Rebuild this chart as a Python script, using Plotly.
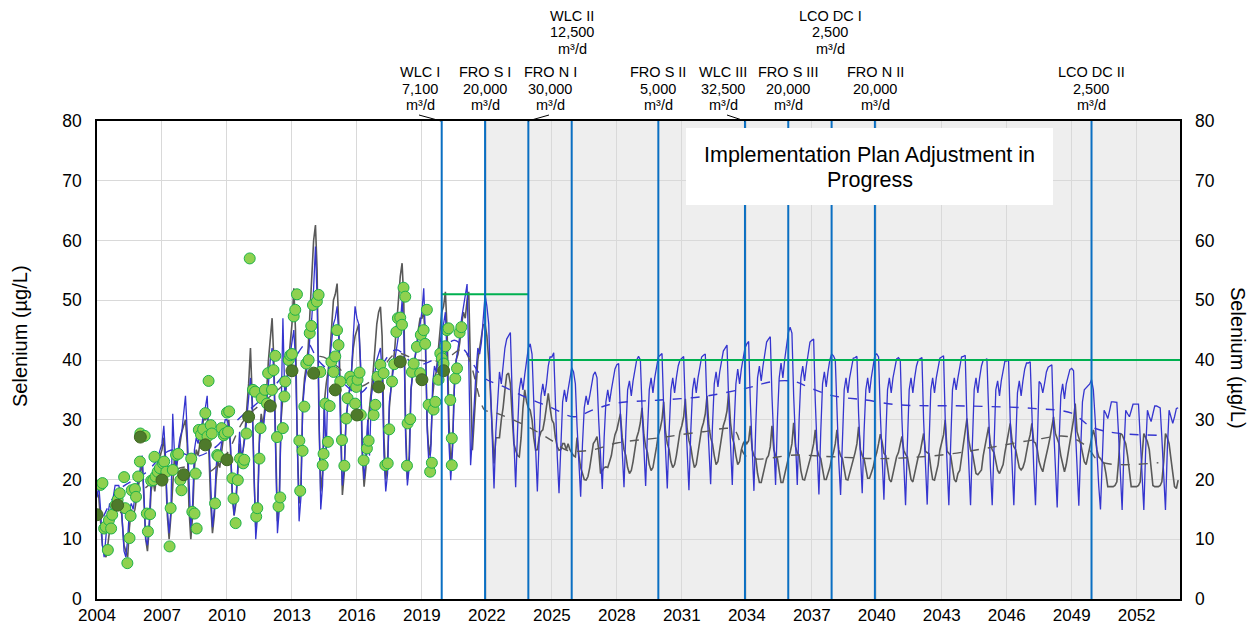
import numpy as np
import pandas as pd
import plotly.graph_objects as go

# ---------------- DATA ----------------
start_month = "2004-01-01"

# Modelled monthly selenium, blue series (Jan..Dec per row), 2004-2053
blue_monthly = [
    17, 19, 15, 9, 7, 11, 14, 16, 15, 17, 19, 19,            # 2004
    19, 18, 14, 8, 7, 10, 15, 16, 15, 17, 19, 20,            # 2005
    22, 24, 18, 10, 9, 13, 20, 21, 19, 22, 24, 25,           # 2006
    26, 29, 24, 15, 11, 15, 31, 24, 22, 25, 27, 28,          # 2007
    31, 34, 28, 19, 12, 16, 25, 27, 26, 28, 29, 31,          # 2008
    32, 34, 27, 17, 12, 15, 22, 25, 24, 26, 28, 30,          # 2009
    30, 29, 26, 18, 14, 17, 22, 28, 24, 25, 27, 30,          # 2010
    34, 37, 33, 20, 10, 14, 26, 30, 28, 31, 33, 36,          # 2011
    40, 42, 38, 24, 11, 15, 30, 47, 34, 36, 38, 41,          # 2012
    43, 45, 40, 24, 13, 17, 32, 36, 38, 40, 44, 47,          # 2013
    52, 59, 50, 28, 15, 19, 33, 24, 37, 40, 43, 46,          # 2014
    47, 49, 44, 27, 19, 22, 30, 33, 35, 38, 44, 49,          # 2015
    47, 46, 40, 25, 20, 24, 30, 24, 34, 36, 38, 40,          # 2016
    41, 42, 38, 24, 18, 21, 33, 36, 38, 40, 42, 44,          # 2017
    46, 50, 45, 27, 19, 22, 35, 38, 40, 42, 44, 46,          # 2018
    48, 52, 44, 28, 22, 25, 36, 39, 38, 40, 43, 45,          # 2019
    46, 48, 40, 26, 19.9, 25, 35, 40, 42, 44, 47, 49,        # 2020
    51, 52.7, 40, 22.4, 27, 33, 38, 42, 41, 43, 47, 50.9,    # 2021
    49, 46, 36, 26, 18.5, 28, 34, 38, 36, 39, 42, 43.5,      # 2022
    44, 44.6, 35, 26, 18.7, 28, 35, 37, 35, 37.5, 40, 42,    # 2023
    42.7, 41, 33, 25, 18, 27, 34, 36, 34, 36, 39, 40.5,      # 2024
    40.5, 41.2, 32, 24, 17.7, 27, 33, 35, 33, 35, 37, 38.7,  # 2025
    38, 36, 29, 23, 17.1, 26, 32, 34, 32.5, 34, 36, 37.5,    # 2026
    38, 37, 30, 24, 18.4, 27, 33, 35, 33, 35, 37, 38.5,      # 2027
    39.2, 39.4, 31, 25, 18.7, 28, 35, 36.5, 34, 36.5, 38.5, 40,  # 2028
    40.6, 40, 32, 25, 18.9, 28, 35, 37, 34.5, 37, 39, 40.5,  # 2029
    40.8, 41.1, 32, 25, 18.5, 28, 35, 37, 34.5, 37, 39, 40,  # 2030
    40.3, 40.6, 32, 25, 18.2, 28, 35, 37, 34.5, 37, 39, 40.5,  # 2031
    40.8, 41, 32, 25, 19.2, 29, 36, 38, 35.5, 38, 40, 41.5,  # 2032
    42, 42.5, 33, 26, 19.1, 29, 36, 38.5, 36, 38.5, 40.5, 42,  # 2033
    42.7, 43.1, 33, 25, 18.1, 29, 37, 39, 36.5, 39, 41, 43,  # 2034
    43.5, 43.9, 34, 26, 19.1, 30, 37, 39.5, 37, 40, 42.5, 44.5,  # 2035
    45.5, 44.5, 34, 26, 19.1, 30, 37, 39, 36.5, 39, 41.5, 43,  # 2036
    43.3, 43.5, 33, 24, 17.5, 28, 36, 38, 35.5, 38, 40, 41,  # 2037
    40.7, 40, 31, 23, 17.4, 28, 35, 37, 34.5, 37, 39, 40.3,  # 2038
    40.4, 40.6, 31, 23, 17.7, 28, 35, 37, 34.5, 37, 39, 40.8,  # 2039
    41, 40.5, 31, 23, 16.6, 27, 35, 37, 34.5, 37, 39, 40.2,  # 2040
    40.4, 40, 30, 22, 15.7, 26, 35, 37, 34.5, 37, 39, 40,    # 2041
    40.2, 40.4, 30, 22, 15.8, 26, 35, 37, 34.5, 37, 39, 40.3,  # 2042
    40.5, 40.7, 30, 22, 15.7, 26, 35, 37, 35, 37, 39, 40.5,  # 2043
    40.6, 40.8, 30, 22, 15.7, 26, 35, 37, 34.5, 37, 39, 40,  # 2044
    40, 40.2, 30, 22, 15.7, 26, 35, 36.5, 34, 36.5, 38.5, 39.8,  # 2045
    39.8, 40, 30, 22, 15.7, 26, 34.5, 36.5, 34, 36.5, 38.5, 39.5,  # 2046
    39.5, 39.7, 30, 22, 15.7, 26, 36.4, 36, 34.5, 36.1, 38, 38.8,  # 2047
    39, 39.2, 29, 21, 15.3, 26, 34, 36, 33.5, 36, 37.5, 38.4,  # 2048
    38.6, 38.2, 29, 21, 15.6, 25, 33, 35, 35.3, 35.6, 36, 36.7,  # 2049
    35, 30, 24, 19, 15, 25, 31.6, 31, 30.2, 31.5, 33, 33,    # 2050
    32.9, 32.9, 27.7, 21, 14.9, 25, 31.6, 31, 30.5, 31.5, 32.6, 32.6,  # 2051
    32.6, 32.6, 27, 21, 14.9, 25, 31.6, 30.5, 29.7, 31, 32.3, 32.3,  # 2052
    32.2, 32, 27, 21, 14.9, 25, 31.6, 30.5, 29.4, 30.5, 31.9, 32,  # 2053
]

# Modelled monthly selenium, grey series (Jan..Dec per row), 2004-2053
grey_monthly = [
    18, 17, 13, 9, 8, 7, 9, 12, 14, 13, 15, 17,              # 2004
    16, 17, 13, 9, 8, 7, 12, 15, 14, 15, 17, 19,             # 2005
    21, 23, 17, 10, 8, 12, 18, 20, 18, 21, 23, 24,           # 2006
    25, 27, 22, 14, 10, 14, 20, 24, 22, 24, 26, 28,          # 2007
    29, 30, 26, 15, 10, 14, 22, 25, 24, 26, 28, 30,          # 2008
    30, 31, 25, 16, 11, 14, 20, 23, 22, 25, 27, 28,          # 2009
    28, 30, 25, 17, 14, 16, 22, 26, 23, 25, 28, 32,          # 2010
    36, 42, 34, 21, 12, 15, 27, 31, 29, 32, 35, 40,          # 2011
    44, 47, 40, 23, 13, 17, 30, 34, 33, 36, 39, 42,          # 2012
    46, 52, 45, 26, 16, 19, 33, 37, 39, 42, 48, 56,          # 2013
    60, 62.6, 55, 30, 18, 21, 33, 36, 38, 41, 45, 50,        # 2014
    51, 52.8, 46, 28, 17.4, 21, 30, 33, 35, 38, 42, 44,      # 2015
    45, 46, 39, 24, 18.8, 22, 29, 32, 34, 38, 42, 46,        # 2016
    48, 48.9, 44, 27, 20, 23, 32, 36, 39, 42, 46, 50,        # 2017
    54, 56.2, 50, 29, 20, 24, 35, 38, 40, 42, 45, 47,        # 2018
    47, 48, 43, 29, 24, 26, 34, 37, 38, 41, 45, 48,          # 2019
    49, 51.4, 45, 30, 22, 26, 36, 40, 41, 43, 46, 48,        # 2020
    47, 50, 51.4, 35, 24.9, 30, 36, 40, 42, 44, 45.9, 46,    # 2021
    44, 40, 34, 28, 22.7, 27, 27, 27, 30, 32, 35, 37.5,      # 2022
    37.8, 36, 31, 26, 24.9, 24, 23.8, 27, 32, 35, 33, 32,    # 2023
    31.6, 30, 27, 24.9, 25, 27, 28, 28.3, 30, 32, 34.4, 32,  # 2024
    30, 29.4, 27, 25.5, 24.9, 25, 26, 26, 25, 26, 25, 24.5,  # 2025
    24, 23.8, 27, 24, 22, 21, 20, 19.9, 20.5, 22, 24, 26,    # 2026
    26.5, 27.2, 25, 21, 21.5, 22, 22.1, 22, 23, 24, 26, 27.5,  # 2027
    28.3, 29.5, 31, 27, 25, 24, 22, 21, 21.5, 23, 25, 27,    # 2028
    28, 29.5, 32, 27.5, 25.5, 24.5, 22.5, 21.5, 22, 23.5, 25.5, 27.5,  # 2029
    28.5, 30, 33, 28, 26, 25, 23, 22, 22.5, 24, 26, 28,      # 2030
    29, 30.5, 33.5, 28.5, 26.5, 25.5, 23.5, 22, 22.5, 24.5, 26.5, 28.5,  # 2031
    29.5, 31, 34, 29, 27, 26, 24, 22.5, 23, 25, 27, 29,      # 2032
    30, 31.5, 34.5, 29.5, 27, 26, 24, 22.5, 23, 25, 26, 26.5,  # 2033
    26, 26.5, 29, 25, 24, 23.5, 21, 19.5, 19.5, 21, 22, 23.5,  # 2034
    24, 25.5, 29, 25, 24, 23.5, 21.5, 19.5, 19.5, 21, 22, 23.5,  # 2035
    24.5, 26, 29.5, 25.5, 24.5, 24, 21.5, 20, 19.9, 21, 22, 23.5,  # 2036
    24.5, 26, 28.3, 25, 24, 23.5, 21.5, 20, 20, 21, 22, 23.5,  # 2037
    24.5, 26, 28.3, 25, 24, 23.5, 21.5, 20, 19.9, 21, 22, 23.5,  # 2038
    24.5, 26, 28.8, 25, 24, 23.5, 21.5, 20.2, 20.2, 21, 22, 23.5,  # 2039
    24.5, 26, 27.6, 26.3, 24.4, 24, 22, 20, 19.6, 21, 22, 23.8,  # 2040
    24.5, 26, 27.2, 24.9, 24.2, 23.8, 22, 20, 19.6, 21, 22, 23.8,  # 2041
    24.5, 26, 27.7, 24.7, 24.5, 24.3, 22, 20, 19.9, 21, 22.5, 24.9,  # 2042
    26, 27.5, 30, 24.7, 24.4, 24, 22, 20, 19.6, 21, 21.5, 23.5,  # 2043
    25.5, 27.5, 30.2, 26.6, 25, 24.5, 22.5, 21, 20.8, 21.2, 21.6, 24,  # 2044
    25.5, 27, 28.8, 26, 25, 24.5, 23, 21.5, 21, 21.6, 22.5, 24.5,  # 2045
    26, 27.5, 29.4, 26.5, 25.5, 25, 23.5, 22, 21.6, 22, 23, 25,  # 2046
    26.3, 27.5, 29.4, 26.3, 26.1, 25, 23, 22, 21.3, 22.8, 24, 25.5,  # 2047
    27, 28.5, 30.5, 27.7, 27, 26, 24, 22.5, 21.3, 22.5, 24.5, 26.6,  # 2048
    28, 30, 32.7, 28, 27, 26, 24.5, 23, 22.5, 24, 25.5, 27,  # 2049
    28.3, 27, 25, 23.8, 23.5, 23, 22.7, 21, 18.8, 18.8, 18.8, 18.8,  # 2050
    19, 19.6, 23, 27.7, 27.5, 26.6, 26, 24, 21, 18.8, 18.8, 18.8,  # 2051
    18.8, 19, 19.6, 24, 27.7, 27, 26.3, 25, 22, 19, 18.8, 18.8,  # 2052
    18.8, 19, 19.6, 23, 27.7, 27, 26, 23.5, 20.5, 18.8, 18.5, 19.9,  # 2053
]

# Running-average trend lines (decimal year, value)
blue_trend_year = [2004.3, 2005.0, 2006.2, 2007.4, 2008.5, 2009.5, 2010.5, 2011.4, 2012.3, 2012.9,
                   2013.7, 2014.2, 2015.2, 2016.1, 2016.9, 2017.8, 2018.7, 2019.5, 2020.5, 2021.0,
                   2021.8, 2022.8, 2023.9, 2025.0, 2026.0, 2027.0, 2028.0, 2030.0, 2032.0, 2034.0,
                   2035.2, 2036.2, 2037.0, 2038.0, 2039.5, 2041.0, 2044.2, 2047.2, 2049.0, 2049.9,
                   2051.0, 2053.0]
blue_trend_val = [13.8, 18.2, 21.0, 24.9, 23.8, 25.5, 30.0, 32.8, 36.1, 38.9,
                  42.8, 40.0, 36.7, 34.4, 37.8, 41.7, 39.2, 40.0, 43.3, 41.5,
                  37.2, 35.5, 33.6, 32.0, 30.5, 31.8, 32.8, 33.3, 33.9, 35.3,
                  36.4, 36.4, 35.2, 34.0, 33.3, 32.5, 32.3, 31.9, 31.1, 28.8,
                  27.8, 27.4]
grey_trend_year = [2004.5, 2005.2, 2006.1, 2007.0, 2008.1, 2009.0, 2009.9, 2010.8, 2011.8, 2012.5,
                   2013.4, 2014.3, 2015.1, 2016.0, 2016.9, 2017.8, 2018.8, 2020.0, 2020.9, 2021.9,
                   2022.2, 2023.8, 2025.0, 2025.7, 2026.8, 2028.0, 2030.0, 2032.0, 2033.4, 2034.0,
                   2036.3, 2038.0, 2040.3, 2043.0, 2045.0, 2047.2, 2048.8, 2049.7, 2050.3, 2053.0]
grey_trend_val = [12.1, 14.9, 18.2, 20.5, 22.1, 21.0, 23.8, 30.0, 33.3, 35.5,
                  38.9, 40.6, 38.9, 35.5, 37.2, 41.1, 40.0, 40.0, 41.7, 31.6,
                  31.4, 29.0, 26.5, 24.9, 24.9, 26.1, 27.0, 28.0, 28.3, 23.8,
                  24.1, 23.8, 23.5, 24.1, 25.2, 26.6, 27.2, 25.5, 23.0, 22.8]

# Observed samples (decimal year, value)
obs_year = [2004.17, 2004.25, 2004.33, 2004.40, 2004.50, 2004.55, 2004.65, 2004.70, 2004.85, 2004.95,
            2005.05, 2005.25, 2005.30, 2005.40, 2005.50, 2005.55, 2005.60, 2005.75, 2005.80, 2005.90,
            2005.98, 2006.00, 2006.20, 2006.30, 2006.35, 2006.45, 2006.50, 2006.60, 2006.65, 2006.70,
            2006.80, 2006.90, 2007.05, 2007.10, 2007.20, 2007.35, 2007.40, 2007.50, 2007.65, 2007.75,
            2007.85, 2007.90, 2008.35, 2008.40, 2008.50, 2008.55, 2008.60, 2008.70, 2008.80, 2008.90,
            2009.00, 2009.10, 2009.15, 2009.25, 2009.30, 2009.45, 2009.55, 2009.60, 2009.75, 2009.85,
            2009.90, 2010.00, 2010.05, 2010.10, 2010.25, 2010.30, 2010.40, 2010.50, 2010.60, 2010.75,
            2010.80, 2010.90, 2011.05, 2011.20, 2011.30, 2011.35, 2011.40, 2011.50, 2011.55, 2011.60,
            2011.75, 2011.85, 2011.90, 2012.08, 2012.15, 2012.23, 2012.31, 2012.38, 2012.46, 2012.58,
            2012.65, 2012.69, 2012.85, 2012.92, 2013.00, 2013.08, 2013.15, 2013.23, 2013.34, 2013.38,
            2013.49, 2013.57, 2013.66, 2013.77, 2013.82, 2013.89, 2013.97, 2014.15, 2014.23, 2014.31,
            2014.42, 2014.46, 2014.54, 2014.66, 2014.74, 2014.82, 2014.92, 2015.00, 2015.08, 2015.15,
            2015.23, 2015.31, 2015.42, 2015.51, 2015.57, 2015.69, 2015.77, 2015.92, 2015.97, 2016.03,
            2016.12, 2016.18, 2016.31, 2016.46, 2016.54, 2016.77, 2016.85, 2016.95, 2017.08, 2017.23,
            2017.31, 2017.42, 2017.49, 2017.62, 2017.72, 2017.82, 2017.89, 2018.00, 2018.08, 2018.15,
            2018.23, 2018.31, 2018.34, 2018.46, 2018.54, 2018.62, 2018.77, 2018.92, 2018.95, 2019.08,
            2019.15, 2019.23, 2019.31, 2019.38, 2019.46, 2019.54, 2019.62, 2019.77, 2019.85, 2019.92,
            2020.00, 2020.08, 2020.15, 2020.23, 2020.31, 2020.38, 2020.38, 2020.54, 2020.62, 2020.74,
            2020.82]
obs_val = [19.1, 19.4, 11.8, 12.1, 8.2, 13.2, 11.8, 14.1, 15.7, 16.6,
           17.7, 20.4, 15.2, 6.0, 10.2, 13.9, 18.2, 18.4, 17.1, 20.5,
           23.0, 27.7, 27.3, 14.3, 11.3, 14.2, 19.8, 19.9, 23.8, 20.5,
           21.3, 21.9, 22.7, 23.0, 21.3, 8.8, 15.2, 21.6, 24.1, 24.3,
           19.9, 18.2, 23.5, 14.6, 14.3, 21.0, 11.8, 28.3, 27.5, 28.4,
           31.1, 27.2, 36.5, 29.1, 27.7, 16.0, 24.1, 23.9, 28.6, 27.4,
           27.7, 31.2, 28.0, 31.4, 20.2, 16.8, 12.7, 19.9, 23.5, 22.7,
           23.3, 27.7, 57.0, 35.0, 34.7, 13.8, 15.2, 23.5, 28.6, 33.6,
           35.0, 32.7, 37.8, 35.0, 38.3, 40.7, 27.1, 15.5, 17.0, 28.6,
           33.9, 36.4, 40.0, 40.8, 41.0, 47.3, 48.4, 51.0, 26.5, 18.1,
           24.8, 32.2, 39.4, 40.0, 44.5, 45.7, 49.2, 49.8, 50.9, 38.0,
           22.4, 24.3, 32.7, 26.3, 32.3, 39.7, 38.0, 40.6, 45.0, 42.5,
           36.4, 26.6, 22.3, 30.2, 33.6, 37.2, 36.4, 32.7, 35.5, 36.7,
           37.9, 30.8, 23.2, 25.2, 26.5, 30.8, 32.5, 37.2, 39.2, 37.8,
           22.4, 22.7, 28.4, 36.4, 39.3, 44.7, 47.0, 47.1, 45.9, 52.1,
           50.6, 22.3, 29.4, 30.1, 38.0, 39.4, 42.2, 37.8, 44.2, 45.0,
           42.7, 48.4, 32.5, 21.3, 22.8, 31.7, 33.0, 36.7, 41.1, 40.3,
           39.4, 42.3, 45.0, 45.3, 33.3, 26.9, 22.4, 36.9, 38.6, 44.6,
           45.5]

# Annual averages of observations
annual_year = [2004.0, 2004.95, 2006.0, 2007.0, 2008.0, 2009.0, 2010.0, 2011.0, 2012.0,
               2013.0, 2014.0, 2015.0, 2016.0, 2017.0, 2018.0, 2019.0, 2020.0]
annual_val = [14.1, 15.7, 27.1, 19.9, 20.8, 25.8, 23.3, 30.5, 32.3,
              38.2, 37.8, 35.0, 30.8, 35.5, 39.7, 36.7, 38.2]

# Implementation steps
impl_dates = ["2019-12-01", "2021-12-01", "2023-12-01", "2025-12-01", "2029-12-01",
              "2033-12-01", "2035-12-01", "2037-12-01", "2039-12-01", "2049-12-01"]
impl_names = ["WLC I", "FRO S I", "FRO N I", "WLC II", "FRO S II",
              "WLC III", "FRO S III", "LCO DC I", "FRO N II", "LCO DC II"]
impl_caps = ["7,100", "20,000", "30,000", "12,500", "5,000",
             "32,500", "20,000", "2,500", "20,000", "2,500"]

# Compliance limits (value, start, end)
limit_vals = [51, 40]
limit_starts = ["2019-12-01", "2023-12-01"]
limit_ends = ["2023-12-01", "2054-01-01"]

forecast_start = "2021-12-01"
x_start, x_end = "2004-01-01", "2054-01-01"
tick_years = list(range(2004, 2053, 3))
y_ticks = list(range(0, 81, 10))

# ---------------- HELPERS ----------------
def dec_to_date(y):
    yr = int(np.floor(y))
    frac = y - yr
    a = pd.Timestamp(year=yr, month=1, day=1)
    b = pd.Timestamp(year=yr + 1, month=1, day=1)
    return a + (b - a) * frac

months_blue = pd.date_range(start_month, periods=len(blue_monthly), freq="MS")
months_grey = pd.date_range(start_month, periods=len(grey_monthly), freq="MS")

FONT = "Arial, Liberation Sans, sans-serif"
BLUE = "#3535cf"
GREY = "#595959"

# page has an 8px body margin; work in screen pixels
OFF = 8
FIG_W, FIG_H = 1257 - 2 * OFF, 632 - 2 * OFF
L, R, T, B = 97, 1180, 121, 599          # plot area on screen
W, H = R - L, B - T
def px(xp):
    return (xp - L) / W
def py(yp):
    return (B - yp) / H

fig = go.Figure()

fig.add_trace(go.Scatter(x=months_grey, y=grey_monthly, mode="lines",
                         line=dict(color=GREY, width=1.6), showlegend=False))
fig.add_trace(go.Scatter(x=months_blue, y=blue_monthly, mode="lines",
                         line=dict(color=BLUE, width=1.3), showlegend=False))
fig.add_trace(go.Scatter(x=[dec_to_date(v) for v in grey_trend_year], y=grey_trend_val,
                         mode="lines", line=dict(color=GREY, width=1.4, dash="dash"),
                         line_shape="spline", showlegend=False))
fig.add_trace(go.Scatter(x=[dec_to_date(v) for v in blue_trend_year], y=blue_trend_val,
                         mode="lines", line=dict(color=BLUE, width=1.4, dash="dash"),
                         line_shape="spline", showlegend=False))

for v, s, e in zip(limit_vals, limit_starts, limit_ends):
    fig.add_trace(go.Scatter(x=[s, e], y=[v, v], mode="lines",
                             line=dict(color="#00b050", width=2), showlegend=False))

fig.add_trace(go.Scatter(x=[dec_to_date(v) for v in obs_year], y=obs_val, mode="markers",
                         marker=dict(size=11, color="#8fd14f",
                                     line=dict(color="#1db24a", width=1)),
                         showlegend=False))
fig.add_trace(go.Scatter(x=[dec_to_date(v) for v in annual_year], y=annual_val, mode="markers",
                         marker=dict(size=12, color="#4e7a2b",
                                     line=dict(color="#3e6622", width=1)),
                         showlegend=False))
# invisible trace for right axis
fig.add_trace(go.Scatter(x=[x_start], y=[0], yaxis="y2", mode="markers",
                         marker=dict(opacity=0), showlegend=False, hoverinfo="skip"))

shapes = []
# forecast shading
shapes.append(dict(type="rect", xref="x", yref="y", x0=forecast_start, x1=x_end, y0=0, y1=80,
                   fillcolor="#eeeeee", line=dict(width=0), layer="below"))
# implementation lines
for d in impl_dates:
    shapes.append(dict(type="line", xref="x", yref="y", x0=d, x1=d, y0=0, y1=80,
                       line=dict(color="#0a6fc2", width=2), layer="above"))

# label layout (pixel centres, tier 0 = lower, 1 = upper)
label_px = [420, 485, 550, 572, 658, 723, 788, 830, 875, 1091]
label_tier = [0, 0, 0, 1, 0, 0, 0, 1, 0, 0]
annotations = []
for name, cap, xp, tier in zip(impl_names, impl_caps, label_px, label_tier):
    rows = [72, 88.5, 105] if tier == 0 else [16, 32.5, 49]
    for txt, yc in zip([name, cap, "m³/d"], rows):
        annotations.append(dict(xref="paper", yref="paper", x=px(xp), y=py(yc),
                                text=txt, showarrow=False,
                                xanchor="center", yanchor="middle",
                                font=dict(family=FONT, size=14.5, color="#000")))
# leader lines
for (x0, y0, x1, y1) in [(419, 115, 441, 121), (528, 121, 549, 115), (727, 115, 745, 121)]:
    shapes.append(dict(type="line", xref="paper", yref="paper", x0=px(x0), y0=py(y0),
                       x1=px(x1), y1=py(y1), line=dict(color="#000", width=1)))

# text box
shapes.append(dict(type="rect", xref="paper", yref="paper", x0=px(686), x1=px(1053),
                   y0=py(205), y1=py(128), fillcolor="white", line=dict(width=0), layer="above"))
annotations.append(dict(xref="paper", yref="paper", x=px(869.5), y=py(155),
                        text="Implementation Plan Adjustment in", showarrow=False,
                        xanchor="center", yanchor="middle",
                        font=dict(family=FONT, size=21.5, color="#000")))
annotations.append(dict(xref="paper", yref="paper", x=px(869.5), y=py(180),
                        text="Progress", showarrow=False,
                        xanchor="center", yanchor="middle",
                        font=dict(family=FONT, size=21.5, color="#000")))
# axis titles
annotations.append(dict(xref="paper", yref="paper", x=px(20), y=py(336), text="Selenium (µg/L)",
                        textangle=-90, showarrow=False, xanchor="center", yanchor="middle",
                        font=dict(family=FONT, size=20, color="#000")))
annotations.append(dict(xref="paper", yref="paper", x=px(1238), y=py(358), text="Selenium (µg/L)",
                        textangle=90, showarrow=False, xanchor="center", yanchor="middle",
                        font=dict(family=FONT, size=20, color="#000")))

fig.update_layout(
    width=FIG_W, height=FIG_H,
    margin=dict(l=L - OFF, r=(FIG_W + OFF) - R, t=T - OFF, b=(FIG_H + OFF) - B, pad=0),
    paper_bgcolor="white", plot_bgcolor="white",
    font=dict(family=FONT, size=17.5, color="#000"),
    showlegend=False,
    shapes=shapes, annotations=annotations,
    xaxis=dict(type="date", range=[x_start, x_end], automargin=False,
               tickvals=[f"{y}-01-01" for y in tick_years],
               ticktext=[str(y) for y in tick_years],
               showgrid=True, gridcolor="#d9d9d9", gridwidth=1,
               showline=True, linecolor="#000", linewidth=1.5, mirror=True,
               ticks="", zeroline=False, tickfont=dict(size=17), ticklabelstandoff=0),
    yaxis=dict(range=[0, 80], tickvals=y_ticks, showgrid=True, gridcolor="#d9d9d9", gridwidth=1,
               showline=True, linecolor="#000", linewidth=1.5, mirror=True, automargin=False,
               ticks="", zeroline=False, tickfont=dict(size=17.5), ticklabelstandoff=10),
    yaxis2=dict(range=[0, 80], tickvals=y_ticks, overlaying="y", side="right", automargin=False,
                showgrid=False, showline=False, ticks="", zeroline=False,
                tickfont=dict(size=17.5), ticklabelstandoff=14),
)

fig.write_html("out.html")
